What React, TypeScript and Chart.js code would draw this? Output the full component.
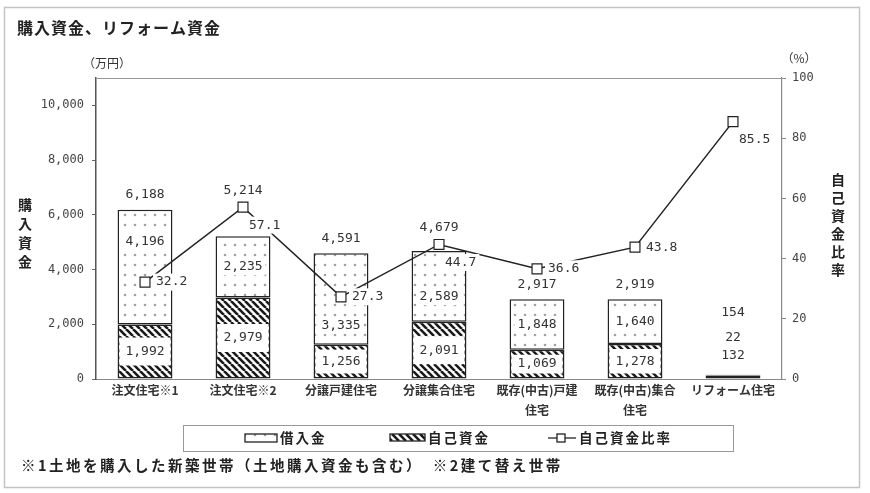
import { useEffect, useRef } from "react"
import { Chart, registerables } from "chart.js"

Chart.register(...registerables)

// categories (multi-line labels as arrays)
const categories = [
  ["注文住宅※1"],
  ["注文住宅※2"],
  ["分譲戸建住宅"],
  ["分譲集合住宅"],
  ["既存(中古)戸建", "住宅"],
  ["既存(中古)集合", "住宅"],
  ["リフォーム住宅"],
]
// 万円
const ownFunds = [1992, 2979, 1256, 2091, 1069, 1278, 132]
const loans = [4196, 2235, 3335, 2589, 1848, 1640, 22]
const totals = [6188, 5214, 4591, 4679, 2917, 2919, 154]
// %
const ownRatio = [32.2, 57.1, 27.3, 44.7, 36.6, 43.8, 85.5]

const leftTicks = [0, 2000, 4000, 6000, 8000, 10000]

const JP = '"Noto Sans CJK JP", sans-serif'
const NUM = '"DejaVu Sans Mono", "Noto Sans CJK JP", monospace'

function makeDots(ctx: CanvasRenderingContext2D): CanvasPattern | string {
  const c = document.createElement("canvas")
  c.width = 10
  c.height = 10
  const g = c.getContext("2d")
  if (!g) return "#fff"
  g.fillStyle = "#fff"
  g.fillRect(0, 0, 10, 10)
  g.fillStyle = "#a0a0a0"
  g.beginPath()
  g.arc(5, 5, 1.3, 0, Math.PI * 2)
  g.fill()
  return ctx.createPattern(c, "repeat") ?? "#fff"
}

function makeHatch(ctx: CanvasRenderingContext2D): CanvasPattern | string {
  const s = 7
  const c = document.createElement("canvas")
  c.width = s
  c.height = s
  const g = c.getContext("2d")
  if (!g) return "#333"
  g.fillStyle = "#fff"
  g.fillRect(0, 0, s, s)
  g.strokeStyle = "#1a1a1a"
  g.lineWidth = 2.6
  g.beginPath()
  for (const k of [-1, 0, 1]) {
    g.moveTo(k * s, 0)
    g.lineTo(k * s + s, s)
  }
  g.stroke()
  return ctx.createPattern(c, "repeat") ?? "#333"
}

function boxText(
  ctx: CanvasRenderingContext2D,
  text: string,
  x: number,
  y: number,
  padX: number,
  h: number,
  align: "center" | "left" = "center"
) {
  const w = ctx.measureText(text).width
  const left = align === "center" ? x - w / 2 : x
  ctx.fillStyle = "#fff"
  ctx.fillRect(left - padX, y - h / 2, w + padX * 2, h)
  ctx.fillStyle = "#333"
  ctx.textAlign = "left"
  ctx.fillText(text, left, y)
}

const fmt = (v: number) => v.toLocaleString("en-US")

// where the ratio label goes: right of the marker, or below-right when the line falls away
function ratioPos(pt: any, i: number) {
  const below = i === ownRatio.length - 1 || ownRatio[i + 1] < ownRatio[i]
  return below ? { x: pt.x + 6, y: pt.y + 18, below } : { x: pt.x + 11, y: pt.y, below }
}

const labelPlugin = {
  id: "barLabels",
  afterDatasetsDraw(chart: any) {
    const ctx: CanvasRenderingContext2D = chart.ctx
    const own = chart.getDatasetMeta(0).data
    const loan = chart.getDatasetMeta(1).data
    const pts = chart.getDatasetMeta(2).data
    ctx.save()
    ctx.textBaseline = "middle"
    ctx.font = `13px ${NUM}`
    own.forEach((ob: any, i: number) => {
      const lb = loan[i]
      const pt = pts[i]
      const x = ob.x
      const ownH = Math.abs(ob.base - ob.y)
      const loanH = Math.abs(lb.base - lb.y)
      const top = Math.min(lb.y, ob.y)
      if (ownH < 12) {
        // tiny bar: stack labels above
        ctx.fillStyle = "#333"
        ctx.textAlign = "center"
        ctx.fillText(fmt(ownFunds[i]), x, top - 19)
        ctx.fillText(fmt(loans[i]), x, top - 37)
        ctx.fillText(fmt(totals[i]), x, top - 62)
        return
      }
      boxText(ctx, fmt(ownFunds[i]), x, (ob.y + ob.base) / 2, 6, Math.min(ownH - 10, 28))
      if (loanH > 14) {
        // keep the loan label clear of the ratio label
        const rp = ratioPos(pt, i)
        const segTop = lb.y
        const segBot = lb.base
        let ly = (segTop + segBot) / 2
        const rTop = rp.y - 9
        const rBot = rp.y + 9
        if (rBot > segTop && rTop < segBot) {
          const upper = rTop - segTop
          const lower = segBot - rBot
          ly = upper > lower ? (segTop + rTop) / 2 : (rBot + segBot) / 2
        }
        boxText(ctx, fmt(loans[i]), x, ly, 3, 17)
      }
      // total
      const below = ratioPos(pt, i).below
      let ty = top - 15
      if (below && pt.y < top) ty = pt.y - 17
      else if (Math.abs(ty - pt.y) < 12) ty = pt.y - 18
      ctx.fillStyle = "#333"
      ctx.textAlign = "center"
      ctx.fillText(fmt(totals[i]), x, ty)
    })
    // ratio labels
    pts.forEach((pt: any, i: number) => {
      const rp = ratioPos(pt, i)
      boxText(ctx, ownRatio[i].toFixed(1), rp.x, rp.y, 3, 17, "left")
    })
    ctx.restore()
  },
}

function vText(ctx: CanvasRenderingContext2D, text: string, x: number, y0: number, step: number) {
  Array.from(text).forEach((ch, i) => ctx.fillText(ch, x, y0 + i * step))
}

export default function App() {
  const canvasRef = useRef<HTMLCanvasElement>(null)
  const chartRef = useRef<Chart | null>(null)

  useEffect(() => {
    if (!canvasRef.current) return
    if (chartRef.current) chartRef.current.destroy()
    const ctx = canvasRef.current.getContext("2d")
    if (!ctx) return

    const dots = makeDots(ctx)
    const hatch = makeHatch(ctx)

    const decoPlugin = {
      id: "deco",
      beforeDraw(chart: any) {
        const c: CanvasRenderingContext2D = chart.ctx
        c.save()
        c.fillStyle = "#fff"
        c.fillRect(0, 0, chart.width, chart.height)
        c.restore()
      },
      afterDraw(chart: any) {
        const c: CanvasRenderingContext2D = chart.ctx
        const a = chart.chartArea
        c.save()
        // outer frame
        c.strokeStyle = "#c4c4c4"
        c.lineWidth = 1.5
        c.strokeRect(4.5, 7.5, 855, 480)
        // top of plot
        c.strokeStyle = "#999"
        c.lineWidth = 1
        c.beginPath()
        c.moveTo(a.left, a.top + 0.5)
        c.lineTo(a.right, a.top + 0.5)
        c.stroke()

        c.fillStyle = "#222"
        c.textBaseline = "middle"
        ;(c as any).letterSpacing = "1px"
        c.font = `bold 16px ${JP}`
        c.textAlign = "left"
        c.fillText("購入資金、リフォーム資金", 17, 28)
        ;(c as any).letterSpacing = "0px"

        c.font = `12px ${JP}`
        c.fillStyle = "#333"
        c.textAlign = "center"
        c.fillText("（万円）", 107, 63)
        c.fillText("（%）", 799, 58)

        c.font = `bold 14px ${JP}`
        c.fillStyle = "#222"
        vText(c, "購入資金", 25, 205, 19)
        vText(c, "自己資金比率", 838, 180, 18)

        // legend
        c.strokeStyle = "#999"
        c.lineWidth = 1
        c.strokeRect(183.5, 425.5, 550, 26)
        c.fillStyle = dots
        c.fillRect(245, 434, 32, 8)
        c.strokeStyle = "#222"
        c.lineWidth = 1.3
        c.strokeRect(245, 434, 32, 8)
        c.fillStyle = hatch
        c.fillRect(390, 434, 35, 7)
        c.strokeStyle = "#222"
        c.strokeRect(390, 434, 35, 7)
        c.beginPath()
        c.moveTo(548, 438)
        c.lineTo(576, 438)
        c.stroke()
        c.fillStyle = "#fff"
        c.fillRect(557, 434, 8, 8)
        c.strokeRect(557, 434, 8, 8)

        c.font = `bold 13.5px ${JP}`
        c.fillStyle = "#222"
        c.textAlign = "left"
        ;(c as any).letterSpacing = "2px"
        c.fillText("借入金", 280, 438)
        c.fillText("自己資金", 428, 438)
        c.fillText("自己資金比率", 579, 438)

        c.font = `bold 14.5px ${JP}`
        ;(c as any).letterSpacing = "2.5px"
        c.fillText("※1土地を購入した新築世帯（土地購入資金も含む）　※2建て替え世帯", 21, 465)
        ;(c as any).letterSpacing = "0px"
        c.restore()
      },
    }

    chartRef.current = new Chart(canvasRef.current, {
      type: "bar",
      data: {
        labels: categories,
        datasets: [
          {
            type: "bar",
            label: "自己資金",
            data: ownFunds,
            backgroundColor: hatch,
            borderColor: "#222",
            borderWidth: 1.5,
            borderSkipped: false,
            categoryPercentage: 1,
            barPercentage: 0.56,
            yAxisID: "y",
            order: 1,
          },
          {
            type: "bar",
            label: "借入金",
            data: loans,
            backgroundColor: dots,
            borderColor: "#222",
            borderWidth: 1.5,
            borderSkipped: false,
            categoryPercentage: 1,
            barPercentage: 0.56,
            yAxisID: "y",
            order: 2,
          },
          {
            type: "line",
            label: "自己資金比率",
            data: ownRatio,
            borderColor: "#222",
            borderWidth: 1.5,
            pointStyle: "rect",
            pointRadius: 7,
            pointBackgroundColor: "#fff",
            pointBorderColor: "#222",
            pointBorderWidth: 1.2,
            tension: 0,
            yAxisID: "y1",
            order: 0,
          },
        ],
      } as any,
      options: {
        animation: false,
        responsive: true,
        maintainAspectRatio: false,
        layout: { padding: { top: 78, left: 0, right: 0, bottom: 0 } },
        plugins: {
          legend: { display: false },
          tooltip: { enabled: false },
        },
        scales: {
          x: {
            stacked: true,
            grid: { display: false },
            border: { display: true, color: "#888", width: 1 },
            ticks: {
              color: "#333",
              font: { family: JP, size: 12, weight: "bold", lineHeight: 1.65 },
              padding: -6,
              maxRotation: 0,
              autoSkip: false,
            },
            afterFit: (s: any) => {
              s.height = 114
            },
          },
          y: {
            stacked: true,
            position: "left",
            min: 0,
            max: 11000,
            ticks: {
              stepSize: 2000,
              color: "#444",
              font: { family: NUM, size: 12 },
              padding: 8,
              callback: (v: any) => fmt(Number(v)),
            },
            grid: { drawOnChartArea: false, tickLength: 4, color: "#666" },
            border: { color: "#555", width: 1.5 },
            afterBuildTicks: (s: any) => {
              s.ticks = leftTicks.map((value) => ({ value }))
            },
            afterFit: (s: any) => {
              s.width = 96
            },
          },
          y1: {
            position: "right",
            min: 0,
            max: 100,
            ticks: {
              stepSize: 20,
              color: "#444",
              font: { family: NUM, size: 12 },
              padding: 6,
            },
            grid: { drawOnChartArea: false, tickLength: 4, color: "#888" },
            border: { color: "#888", width: 1.2 },
            afterFit: (s: any) => {
              s.width = 88
            },
          },
        },
      } as any,
      plugins: [decoPlugin, labelPlugin],
    })

    return () => {
      if (chartRef.current) {
        chartRef.current.destroy()
        chartRef.current = null
      }
    }
  }, [])

  return (
    <div style={{ position: "absolute", left: 0, top: 0, width: "870px", height: "493px", background: "#fff" }}>
      <canvas ref={canvasRef} />
    </div>
  )
}
